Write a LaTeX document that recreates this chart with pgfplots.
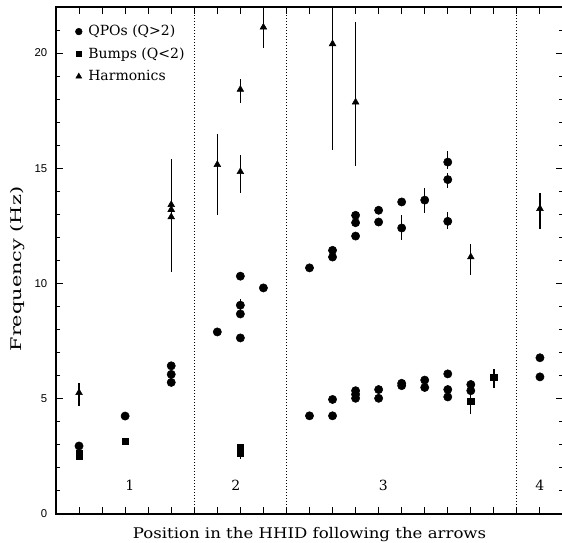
\documentclass[border=0pt]{standalone}
\usepackage{fontspec}
\setmainfont{DejaVu Serif}
\newfontfamily\ticksfont{Liberation Sans}
\usepackage{graphicx}
\usepackage{pgfplots}
\pgfplotsset{compat=1.18}
\usepackage{pgfplotstable}

% x  y  e+  e-
\pgfplotstableread{
x y ep em
1 2.95 0 0
3 4.25 0 0
5 6.43 0 0
5 6.06 0 0
5 5.71 0 0
7 7.90 0 0
8 10.32 0 0
8 9.06 0.25 0.25
8 8.68 0 0
8 7.64 0 0
9 9.81 0 0
11 10.68 0 0
11 4.26 0 0
12 11.44 0 0
12 11.15 0 0
12 4.97 0 0
12 4.26 0 0
13 12.96 0 0
13 12.64 0 0
13 12.06 0 0
13 5.35 0 0
13 5.19 0 0
13 5.02 0 0
14 13.18 0 0
14 12.67 0 0
14 5.40 0 0
14 5.02 0 0
15 13.54 0 0
15 12.41 0.58 0.50
15 5.67 0 0
15 5.57 0 0
16 13.62 0.52 0.54
16 5.81 0 0
16 5.49 0 0
17 15.27 0.46 0.30
17 14.51 0.30 0.37
17 12.70 0.40 0.32
17 6.08 0 0
17 5.40 0 0
17 5.08 0 0
18 5.62 0 0
18 5.35 0 0
21 6.78 0 0
21 5.95 0 0
}\qpos

\pgfplotstableread{
x y ep em
1 2.62 0 0
1 2.52 0 0
3 3.16 0.15 0.15
8 2.88 0 0
8 2.64 0 0.24
18 4.90 0.40 0.54
19 5.94 0.37 0.49
}\bumps

\pgfplotstableread{
x y ep em
1 5.26 0.41 0.58
5 13.42 0.60 0.60
5 13.21 0.60 0.60
5 12.89 2.53 2.39
7 15.16 1.34 2.20
8 18.42 0.47 0.57
8 14.85 0.74 0.92
9 21.12 0.90 0.91
12 20.40 2.00 4.62
13 17.87 3.50 2.77
18 11.15 0.58 0.79
21 13.25 0.69 0.90
}\harmonics

\begin{document}
\begin{tikzpicture}
\begin{axis}[
  scale only axis,
  width=380.25pt, height=380.25pt,
  xmin=0, xmax=22, ymin=0, ymax=22,
  axis line style={line width=1.4pt},
  every tick/.style={black, line width=0.75pt},
  major tick length=5.25pt, minor tick length=3pt,
  xtick={1,...,21}, xticklabels={},
  ytick={0,5,10,15,20}, minor ytick={1,...,22},
  tick align=inside,
  yticklabel style={font=\ticksfont\fontsize{8.5}{9}\selectfont, xshift=-3.1pt},
  /pgf/number format/assume math mode=true,
  label style={font=\fontsize{11}{13}\selectfont},
  xlabel={\scalebox{1.13}[1]{Position in the HHID following the arrows}},
  ylabel={\scalebox{1.42}[1]{Frequency (Hz)}},
  xlabel style={at={(axis description cs:0.5,-0.0483)}, anchor=base},
  ylabel style={at={(axis description cs:-0.069,0.483)}, anchor=base},
  legend style={at={(axis description cs:0.03,0.975)}, anchor=north west,
    draw=none, fill=none, font=\fontsize{10.5}{12}\selectfont,
    row sep=3.4pt,
    nodes={inner xsep=4.6pt}},
  legend cell align=left,
  error bars/error bar style={line width=1pt, black},
  error bars/error mark=none,
]
\addplot[black, only marks, mark=*, mark size=3.1pt,
  legend image code/.code={\draw[black, fill=black, mark=*, mark size=2.5pt] plot coordinates {(0.2cm,0cm)};},
  error bars/.cd, y dir=both, y explicit]
  table[x=x, y=y, y error plus=ep, y error minus=em] {\qpos};
\addlegendentry{QPOs (Q>2)}
\addplot[black, only marks, mark=square*, mark size=2.45pt,
  legend image code/.code={\draw[black, fill=black, mark=square*, mark size=1.9pt] plot coordinates {(0.2cm,0cm)};},
  error bars/.cd, y dir=both, y explicit]
  table[x=x, y=y, y error plus=ep, y error minus=em] {\bumps};
\addlegendentry{Bumps (Q<2)}
\addplot[black, only marks, mark=triangle*, mark size=2.9pt,
  legend image code/.code={\draw[black, fill=black, mark=triangle*, mark size=2.5pt] plot coordinates {(0.2cm,0cm)};},
  error bars/.cd, y dir=both, y explicit]
  table[x=x, y=y, y error plus=ep, y error minus=em] {\harmonics};
\addlegendentry{Harmonics}

% boundaries between the branches
\draw[line width=0.75pt, dash pattern=on 0.75pt off 1.5pt] (axis cs:6,0) -- (axis cs:6,22);
\draw[line width=0.75pt, dash pattern=on 0.75pt off 1.5pt] (axis cs:10,0) -- (axis cs:10,22);
\draw[line width=0.75pt, dash pattern=on 0.75pt off 1.5pt] (axis cs:20,0) -- (axis cs:20,22);

\node[anchor=center, font=\fontsize{10.5}{12}\selectfont] at (axis cs:3.2,1.25) {1};
\node[anchor=center, font=\fontsize{10.5}{12}\selectfont] at (axis cs:7.8,1.25) {2};
\node[anchor=center, font=\fontsize{10.5}{12}\selectfont] at (axis cs:14.2,1.25) {3};
\node[anchor=center, font=\fontsize{10.5}{12}\selectfont] at (axis cs:21,1.25) {4};
\end{axis}
\pgfresetboundingbox
\path (-42pt,-21.75pt) rectangle (379.5pt,385.5pt);
\end{tikzpicture}
\end{document}
